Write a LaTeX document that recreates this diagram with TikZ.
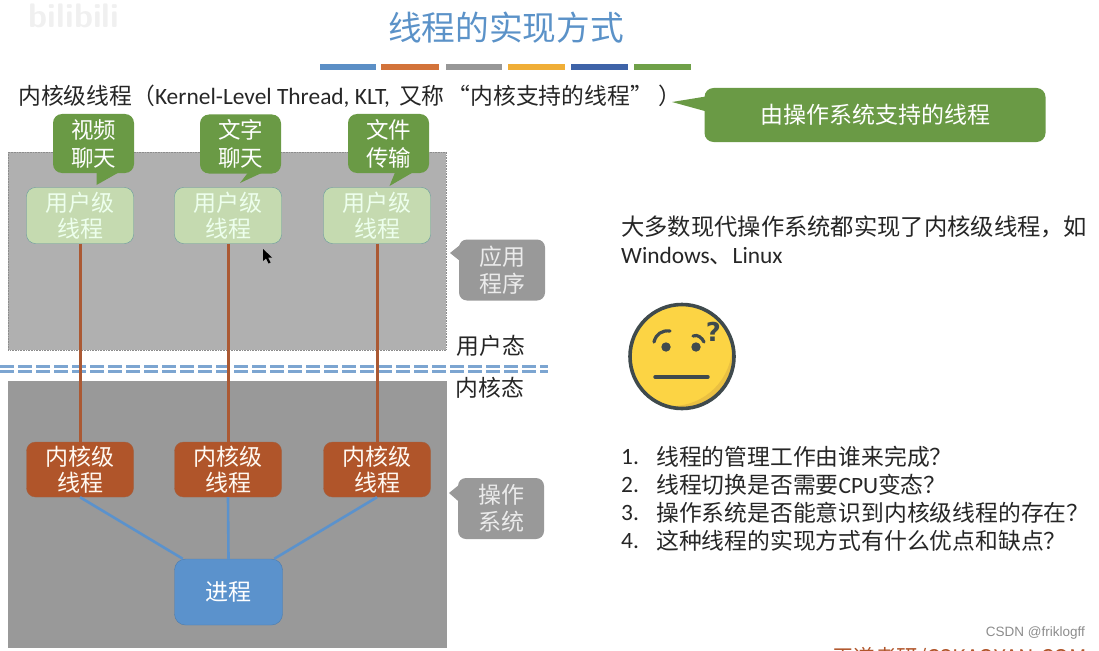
\documentclass[tikz,border=0pt]{standalone}
\usepackage{fontspec}
\usepackage{xcolor}
\usepackage{tikz}
\usetikzlibrary{calc}
\setmainfont{Carlito}
\newfontfamily\cjk{Noto Sans CJK SC}
\newcommand{\latinpart}{\fontspec{Carlito}\fontsize{23.4}{26}\selectfont}
\definecolor{titleblue}{HTML}{5B92C8}
\definecolor{barblue}{HTML}{5B8FC6}
\definecolor{barorange}{HTML}{D3733A}
\definecolor{bargray}{HTML}{979797}
\definecolor{baryellow}{HTML}{F0AE36}
\definecolor{barnavy}{HTML}{3E63A8}
\definecolor{bargreen}{HTML}{6FA048}
\definecolor{chatgreen}{HTML}{6A9A45}
\definecolor{usergreen}{HTML}{C5DAB0}
\definecolor{kernelred}{HTML}{B0552A}
\definecolor{procblue}{HTML}{5B92CC}
\definecolor{userarea}{HTML}{B0B0B0}
\definecolor{kernelarea}{HTML}{999999}
\definecolor{facefill}{HTML}{FCD444}
\definecolor{faceshade}{HTML}{EAC042}
\definecolor{faceline}{HTML}{3F4A4D}
\tikzset{
  boxtext/.style={font=\cjk\fontsize{23}{26}\selectfont,align=center,inner sep=0pt},
  chatbox/.style={boxtext,fill=chatgreen,text=white,rounded corners=9pt,minimum width=81pt,minimum height=59pt,font=\cjk\fontsize{22.5}{28}\selectfont},
  userbox/.style={boxtext,fill=usergreen,draw=black!30!teal!60,text=white!93!green,rounded corners=9pt,minimum width=107pt,minimum height=56pt},
  kernelbox/.style={boxtext,fill=kernelred,draw=kernelred!70!gray,text=white!95!orange,rounded corners=9pt,minimum width=107pt,minimum height=55pt},
  tagbox/.style={boxtext,fill=kernelarea,text=white!92!black,rounded corners=8pt,minimum width=86pt,minimum height=61pt,font=\cjk\fontsize{23}{27}\selectfont},
  plaintext/.style={font=\cjk\fontsize{22.8}{26}\selectfont,text=black!85,inner sep=0pt},
  redline/.style={draw=kernelred!90!gray,line width=3pt},
  blueline/.style={draw=procblue,line width=2.6pt}
}
\begin{document}
\begin{tikzpicture}[x=1pt,y=-1pt]
\useasboundingbox (0,0) rectangle (1099,650);
% watermarks in the corners
\node[font=\sffamily\bfseries\fontsize{34}{34}\selectfont,text=black!6,inner sep=0pt] (logo) at (74,16) {bilibili};
% title and colour strip
\node[font=\cjk\fontsize{33.7}{36}\selectfont,text=titleblue,inner sep=0pt] (title) at (506,28) {线程的实现方式};
\fill[barblue] (320,64) rectangle (376,70);
\fill[barorange] (381,64) rectangle (439,70);
\fill[bargray] (446,64) rectangle (502,70);
\fill[baryellow] (508,64) rectangle (565,70);
\fill[barnavy] (571,64) rectangle (628,70);
\fill[bargreen] (634,64) rectangle (691,70);
\node[plaintext,anchor=west] (heading) at (18,96) {内核级线程（{\latinpart Kernel-Level Thread, KLT,}\hspace{4pt} 又称\hspace{3pt}“内核支持的线程”\hspace{6pt}）};
% green remark
\fill[chatgreen] (672,102) -- (712,95.5) -- (712,113) -- cycle;
\node[boxtext,fill=chatgreen,text=white,rounded corners=9pt,minimum width=341pt,minimum height=54pt] (remark) at (875,115) {由操作系统支持的线程};
% the two areas
\fill[userarea] (8,152) rectangle (446,350);
\draw[black!45,densely dotted,line width=0.6pt] (8,152) rectangle (446,350);
\fill[kernelarea] (8,381) rectangle (446,647);
\draw[black!40,line width=0.5pt] (8,381) rectangle (446,647);
\coordinate (splitL) at (0,369);
\coordinate (splitR) at (548,369);
\draw[barblue!80,double=white,double distance=1.1pt,line width=3.5pt,dash pattern=on 14pt off 4pt] (splitL) -- (splitR);
\node[plaintext] (usermode) at (491,346) {用户态};
\node[plaintext] (kernelmode) at (490,388) {内核态};
% applications
\node[chatbox] (video) at (93.5,143.5) {视频\\聊天};
\fill[chatgreen] (96.5,170) -- (96.5,185) -- (123,170) -- cycle;
\node[chatbox] (chat) at (240.5,144) {文字\\聊天};
\fill[chatgreen] (240,183) -- (250,170) -- (268,170) -- cycle;
\node[chatbox] (file) at (388.5,143.5) {文件\\传输};
\fill[chatgreen] (389.5,186) -- (396,170) -- (417,170) -- cycle;
% threads
\node[userbox] (user1) at (80,215.5) {用户级\\线程};
\node[userbox] (user2) at (228,215.5) {用户级\\线程};
\node[userbox] (user3) at (377,215.5) {用户级\\线程};
\node[kernelbox] (kernel1) at (80,469.5) {内核级\\线程};
\node[kernelbox] (kernel2) at (228,469.5) {内核级\\线程};
\node[kernelbox] (kernel3) at (377,469.5) {内核级\\线程};
\node[boxtext,fill=procblue,draw=procblue!85!black,text=white,rounded corners=11pt,minimum width=108pt,minimum height=66pt] (process) at (228.5,592) {进程};
\draw[redline] (user1) -- (kernel1);
\draw[redline] (user2) -- (kernel2);
\draw[redline] (user3) -- (kernel3);
\draw[blueline] (kernel1.south) -- (process.144);
\draw[blueline] (kernel2.south) -- (process.north);
\draw[blueline] (kernel3.south) -- (process.36);
% gray tags
\fill[kernelarea] (450,253) -- (465,241) -- (465,265) -- cycle;
\node[tagbox] (apptag) at (502,270) {应用\\程序};
\fill[kernelarea] (449,493) -- (465,480) -- (465,507) -- cycle;
\node[tagbox] (ostag) at (501,508.5) {操作\\系统};
% right column
\node[plaintext,anchor=west,font=\cjk\fontsize{23.3}{26}\selectfont] (claim) at (621,227) {大多数现代操作系统都实现了内核级线程，如};
\node[plaintext,anchor=west,font=\latinpart] (examples) at (621,256) {Windows{\cjk\fontsize{22.8}{26}\selectfont 、}Linux};
% face
\fill[facefill] (682,356.5) circle (53);
\begin{scope}
  \clip (682,356.5) circle (53);
  \fill[faceshade,even odd rule] (682,356.5) circle (53) (672,346) circle (60);
\end{scope}
\draw[faceline,line width=3.6pt] (682,356.5) circle (52);
\fill[faceline] (666,347) circle (4.7);
\fill[faceline] (696,347) circle (4.7);
\draw[faceline,line width=3.4pt,line cap=round] (655,377) -- (708,377);
\draw[faceline,line width=3.2pt,line cap=round] (654,342) .. controls (656,334) and (662,330) .. (670,331);
\draw[faceline,line width=3.2pt,line cap=round] (693,336) .. controls (698,334) and (702,338) .. (704,342);
\node[font=\fontspec{DejaVu Sans}\bfseries\fontsize{26}{26}\selectfont,text=faceline,inner sep=0pt] (puzzled) at (713.5,332) {?};
% questions
\node[plaintext,anchor=west,font=\latinpart] (num1) at (621,457) {1.};
\node[plaintext,anchor=west] (ask1) at (656,457) {线程的管理工作由谁来完成？};
\node[plaintext,anchor=west,font=\latinpart] (num2) at (621,485) {2.};
\node[plaintext,anchor=west] (ask2) at (656,485) {线程切换是否需要{\latinpart CPU}变态？};
\node[plaintext,anchor=west,font=\latinpart] (num3) at (621,513) {3.};
\node[plaintext,anchor=west] (ask3) at (656,513) {操作系统是否能意识到内核级线程的存在？};
\node[plaintext,anchor=west,font=\latinpart] (num4) at (621,541) {4.};
\node[plaintext,anchor=west] (ask4) at (656,541) {这种线程的实现方式有什么优点和缺点？};
% footer, cut by the page edge
\node[font=\cjk\fontsize{21.5}{24}\selectfont,text=kernelred,anchor=west,inner sep=0pt] (brand) at (832,658) {王道考研/CSKAOYAN.COM};
\node[font=\fontspec{Liberation Sans}\fontsize{13.5}{15}\selectfont,text=black!45,anchor=east,inner sep=0pt] (credit) at (1085,633) {CSDN @friklogff};
% pointer of the screen cursor
\fill[black] (263,249) -- (263,261) -- (266,258.5) -- (268.5,263.5) -- (270.5,262.5) -- (268,257.5) -- (272,257.5) -- cycle;
\end{tikzpicture}
\end{document}
